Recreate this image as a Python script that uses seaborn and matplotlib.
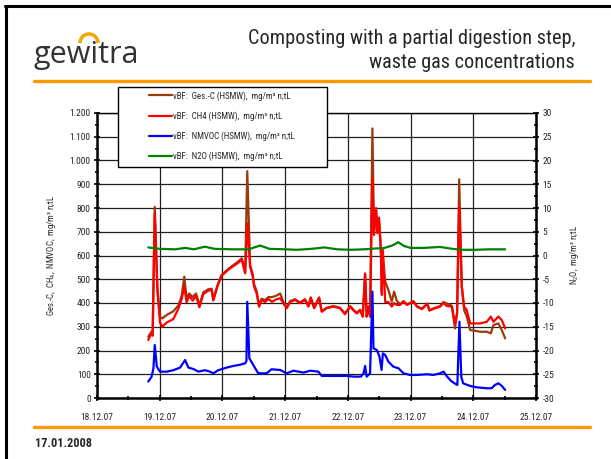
import pandas as pd
import matplotlib
matplotlib.use("Agg")
import matplotlib.pyplot as plt
import matplotlib.dates as mdates
import seaborn as sns
from matplotlib import font_manager as fm
from matplotlib.ticker import MultipleLocator, FuncFormatter
from matplotlib.patches import Rectangle, Arc
from matplotlib.lines import Line2D
from datetime import datetime, timedelta

# data ----------------------------------------------------
# hours after 18.12.07 00:00
hrs_c = [19.6, 20.9, 21.3, 22.1, 23.1, 24.1, 25.0, 26.7, 29.2, 31.1,
         32.4, 33.4, 34.3, 35.3, 36.6, 37.9, 39.2, 40.7, 42.6, 43.9,
         44.5, 46.1, 47.7, 49.9, 51.6, 53.5, 55.4, 56.7, 57.5, 58.6,
         59.6, 60.1, 61.1, 62.0, 63.0, 64.3, 65.6, 67.0, 68.5, 70.1,
         71.3, 72.6, 73.9, 75.8, 77.7, 79.6, 80.9, 81.8, 83.1, 85.0,
         86.0, 87.9, 90.5, 93.0, 94.9, 96.9, 98.1, 99.4, 100.7, 101.7,
         102.6, 103.2, 103.9, 104.5, 105.4, 106.0, 106.8, 107.3, 107.9, 108.6,
         109.0, 109.4, 110.3, 111.5, 112.8, 113.7, 114.7, 116.0, 117.3, 118.6,
         119.8, 121.1, 122.4, 124.3, 126.4, 127.2, 129.4, 131.3, 132.6, 133.9,
         135.8, 137.0, 137.8, 138.6, 139.6, 140.5, 141.5, 142.8, 144.7, 146.6,
         149.2, 150.7, 151.7, 153.6, 154.9, 156.2]
ch4 = [244, 272, 262, 780, 455, 318, 300, 318, 332, 375,
       417, 468, 403, 431, 410, 431, 382, 438, 452, 455,
       410, 470, 515, 537, 551, 565, 583, 525, 735, 553,
       511, 469, 441, 384, 413, 404, 417, 405, 415, 420,
       399, 378, 404, 413, 399, 413, 385, 421, 378, 421,
       363, 378, 385, 378, 353, 385, 370, 356, 370, 342,
       525, 342, 384, 342, 925, 686, 792, 694, 756, 623,
       434, 623, 404, 404, 385, 400, 392, 392, 406, 392,
       399, 406, 385, 374, 396, 368, 378, 385, 401, 387,
       385, 314, 357, 805, 469, 385, 370, 314, 314, 314,
       321, 343, 321, 343, 328, 293]
ges_c = [258, 280, 276, 805, 470, 342, 335, 350, 365, 389,
         430, 511, 420, 440, 425, 440, 390, 445, 458, 460,
         415, 475, 518, 540, 555, 570, 588, 530, 955, 560,
         520, 480, 450, 390, 418, 412, 425, 425, 430, 440,
         405, 382, 408, 416, 402, 416, 388, 424, 380, 424,
         366, 380, 387, 380, 356, 387, 372, 358, 372, 345,
         520, 345, 386, 345, 1135, 700, 800, 700, 760, 640,
         450, 600, 490, 455, 406, 448, 410, 395, 408, 394,
         400, 408, 387, 376, 398, 370, 380, 387, 404, 398,
         388, 293, 357, 921, 469, 370, 343, 286, 283, 279,
         279, 272, 307, 314, 286, 251]

hrs_voc = [19.6, 20.9, 21.6, 22.1, 22.9, 24.1, 26.7, 29.2, 31.8, 33.7,
           35.0, 36.9, 38.8, 41.3, 43.2, 44.5, 46.4, 49.6, 52.2, 54.7,
           56.7, 57.2, 57.5, 58.3, 59.8, 61.7, 64.9, 66.8, 70.1, 72.6,
           75.2, 79.0, 81.6, 84.7, 86.0, 90.5, 95.6, 98.3, 101.0, 102.0,
           102.6, 103.2, 104.5, 105.4, 105.8, 107.1, 108.1, 108.9, 109.4, 110.3,
           111.5, 113.4, 115.4, 117.3, 119.8, 122.4, 126.4, 128.7, 131.3, 132.6,
           134.0, 135.5, 136.8, 137.9, 138.7, 139.4, 140.1, 142.7, 145.3, 149.1,
           151.0, 152.3, 153.6, 154.9, 156.2]
nmvoc = [69, 90, 125, 223, 132, 111, 111, 117, 128, 160,
         128, 122, 111, 117, 111, 104, 117, 128, 135, 140,
         146, 156, 405, 167, 139, 104, 104, 121, 118, 104,
         115, 107, 115, 111, 93, 93, 93, 90, 90, 104,
         135, 90, 104, 448, 209, 202, 174, 118, 188, 181,
         153, 132, 125, 104, 97, 97, 100, 97, 104, 111,
         90, 72, 62, 55, 321, 90, 62, 51, 45, 41,
         41, 55, 62, 51, 34]

hrs_n2o = [19.6, 24.0, 30.0, 33.7, 37.0, 41.3, 45.0, 52.0, 58.0, 62.4,
           66.0, 72.0, 76.4, 82.0, 87.0, 92.0, 97.0, 102.0, 110.0, 113.0,
           115.3, 117.5, 120.0, 125.0, 131.3, 136.0, 140.0, 145.0, 150.0, 156.2]
n2o = [1.7, 1.4, 1.3, 1.6, 1.3, 1.85, 1.4, 1.3, 1.3, 2.1,
       1.4, 1.3, 1.2, 1.4, 1.7, 1.3, 1.2, 1.3, 1.6, 2.1,
       2.8, 2.0, 1.6, 1.6, 1.8, 1.4, 1.2, 1.2, 1.3, 1.3]

labels = ["vBF:  Ges.-C (HSMW),  mg/m\u00b3 n;tL",
          "vBF:  CH4 (HSMW),  mg/m\u00b3 n;tL",
          "vBF:  NMVOC (HSMW),  mg/m\u00b3 n;tL",
          "vBF:  N2O (HSMW),  mg/m\u00b3 n;tL"]
colors = ["#9c3a0c", "#ff0000", "#0000ff", "#008000"]

t0 = datetime(2007, 12, 18)
def to_time(hrs):
    return [t0 + timedelta(hours=h) for h in hrs]

dfC = pd.DataFrame({"time": to_time(hrs_c), "ges_c": ges_c, "ch4": ch4})
dfV = pd.DataFrame({"time": to_time(hrs_voc), "nmvoc": nmvoc})
dfN = pd.DataFrame({"time": to_time(hrs_n2o), "n2o": n2o})

# fonts: pick a narrow sans (Arial Narrow look) ----------------------
installed = {f.name for f in fm.fontManager.ttflist}
narrow = "DejaVu Sans"
for cand in ["Liberation Sans Narrow", "Arial Narrow", "Roboto Condensed",
             "PT Sans Narrow", "Archivo Narrow", "Pragati Narrow"]:
    if cand in installed:
        narrow = cand
        break

sns.set_style("white")
plt.rcParams["font.family"] = [narrow, "DejaVu Sans"]
plt.rcParams["axes.unicode_minus"] = False
plt.rcParams["mathtext.fontset"] = "custom"
plt.rcParams["mathtext.rm"] = narrow
plt.rcParams["mathtext.it"] = narrow

W, H = 611, 459
fig = plt.figure(figsize=(W/100, H/100), dpi=100)
fig.patch.set_facecolor("white")
ax = fig.add_axes([97/W, 1-398/H, 439/W, 285/H])
ax2 = ax.twinx()

lw = 1.6
sns.lineplot(data=dfC, x="time", y="ges_c", ax=ax, color=colors[0], lw=lw, label=labels[0], legend=False)
sns.lineplot(data=dfC, x="time", y="ch4", ax=ax, color=colors[1], lw=lw, label=labels[1], legend=False)
sns.lineplot(data=dfV, x="time", y="nmvoc", ax=ax, color=colors[2], lw=lw, label=labels[2], legend=False)
sns.lineplot(data=dfN, x="time", y="n2o", ax=ax2, color=colors[3], lw=lw, label=labels[3], legend=False)

# axes ----------------------------------------------------
ax.set_xlim(datetime(2007, 12, 18), datetime(2007, 12, 25))
ax.set_ylim(0, 1200)
ax2.set_ylim(-30, 30)
ax.xaxis.set_major_locator(mdates.DayLocator())
ax.xaxis.set_minor_locator(mdates.HourLocator(byhour=[12]))
ax.xaxis.set_major_formatter(mdates.DateFormatter("%d.%m.%y"))
ax.yaxis.set_major_locator(MultipleLocator(100))
ax.yaxis.set_minor_locator(MultipleLocator(50))
ax.yaxis.set_major_formatter(FuncFormatter(lambda v, p: f"{int(v):,}".replace(",", ".")))
ax2.yaxis.set_major_locator(MultipleLocator(5))
ax2.yaxis.set_minor_locator(MultipleLocator(2.5))

ax.grid(True, which="major", color="#202020", lw=0.9)
ax2.grid(False)
ax.set_xlabel("")
ax.set_ylabel("Ges.-C,  CH$_4$,  NMVOC,  mg/m\u00b3 n;tL", fontsize=6.3)
ax2.set_ylabel("N$_2$O,  mg/m\u00b3 n;tL", fontsize=6.3)
ax.yaxis.set_label_coords(-0.088, 0.5)
ax2.yaxis.set_label_coords(1.072, 0.5)

for a in (ax, ax2):
    for s in a.spines.values():
        s.set_visible(False)
ax.spines["left"].set_visible(True)
ax.spines["bottom"].set_visible(True)
ax.spines["top"].set_visible(True)
ax2.spines["right"].set_visible(True)
for s in (ax.spines["left"], ax.spines["bottom"], ax2.spines["right"]):
    s.set_linewidth(1.8)
    s.set_color("black")
ax.spines["top"].set_linewidth(1)
ax.spines["top"].set_color("black")

ax.tick_params(which="major", direction="inout", length=4.5, width=1.2, color="black", labelsize=6.8, pad=2.3)
ax.tick_params(which="minor", direction="inout", length=3, width=1.2, color="black")
ax.tick_params(axis="x", which="major", pad=8.5)
ax.tick_params(axis="x", which="both", bottom=True)
ax.tick_params(axis="y", which="both", left=True)
ax2.tick_params(which="major", direction="inout", length=4.5, width=1.2, color="black", labelsize=6.8, pad=2.3, right=True)
ax2.tick_params(which="minor", direction="inout", length=3, width=1.2, color="black", right=True)

# legend ----------------------------------------------------
h1, l1 = ax.get_legend_handles_labels()
h2, l2 = ax2.get_legend_handles_labels()
box = Rectangle((118/W, 1-167/H), 209/W, 80/H, transform=fig.transFigure,
                facecolor="white", edgecolor="black", lw=1, zorder=4)
fig.add_artist(box)
fig.legend(h1 + h2, l1 + l2, loc="upper left", bbox_to_anchor=(149/W, 1-91/H),
           frameon=False, fontsize=6.4, handlelength=2.6, handletextpad=0.1,
           labelspacing=1.2, borderpad=0, borderaxespad=0)

# slide decoration ----------------------------------------------------
fig.add_artist(Line2D([5/W, 1], [1-6/H, 1-6/H], transform=fig.transFigure, color="black", lw=2.2))
fig.add_artist(Line2D([6/W, 6/W], [0, 1-6/H], transform=fig.transFigure, color="black", lw=2.2))
fig.add_artist(Line2D([34/W, 590/W], [1-81/H, 1-81/H], transform=fig.transFigure, color="#ff9900", lw=2.4))
fig.add_artist(Line2D([34/W, 590/W], [1-427/H, 1-427/H], transform=fig.transFigure, color="#ff9900", lw=2.4))

fig.text(575/W, 1-39/H, "Composting with a partial digestion step,", ha="right", va="center", fontsize=14.6)
fig.text(575/W, 1-63/H, "waste gas concentrations", ha="right", va="center", fontsize=14.6)
fig.text(33/W, 1-55/H, "gewitra", ha="left", va="center", fontsize=22, color="#333333", family="Open Sans")
fig.add_artist(Arc((89/W, 1-43/H), 18/W, 18/H, theta1=0, theta2=180, transform=fig.transFigure,
                   color="#f0a800", lw=2.5))
fig.text(34.5/W, 1-443.5/H, "17.01.2008", ha="left", va="center", fontsize=8.8, fontweight="bold")

fig.savefig("out.png", dpi=100)
